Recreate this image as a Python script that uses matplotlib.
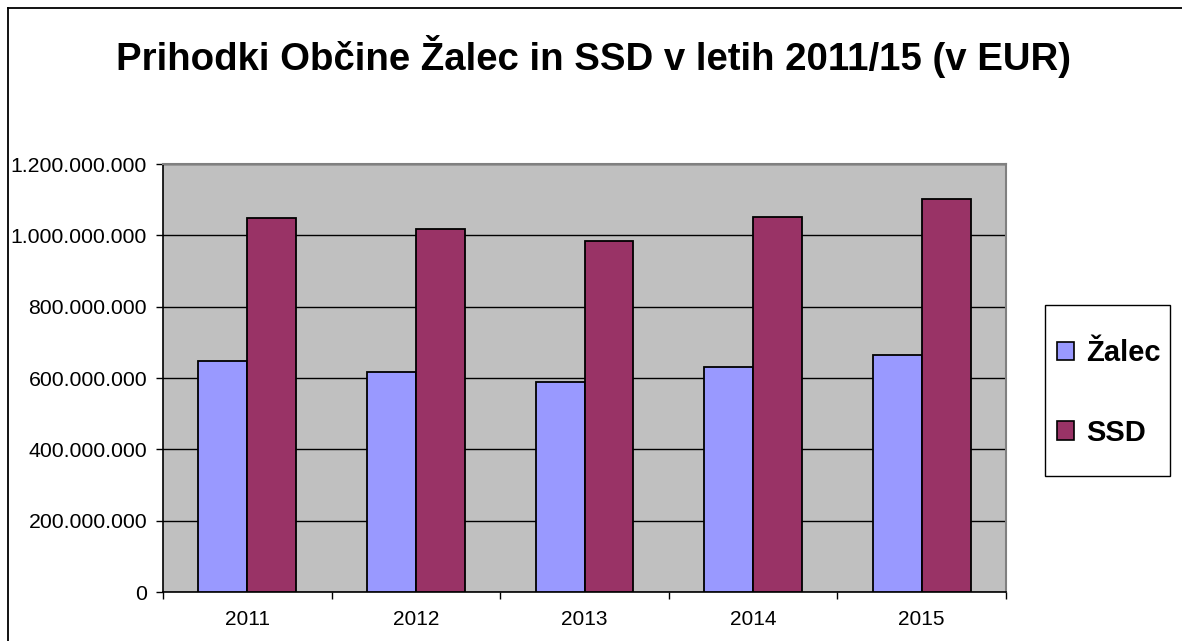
import matplotlib
matplotlib.use("Agg")
import matplotlib.pyplot as plt
import numpy as np
from matplotlib.lines import Line2D
from matplotlib.patches import Rectangle
from matplotlib.ticker import FuncFormatter

# data (EUR)
years = ["2011", "2012", "2013", "2014", "2015"]
zalec = [648e6, 616e6, 588e6, 632e6, 665e6]
ssd = [1050e6, 1018e6, 984e6, 1051e6, 1101e6]
series_names = ["Žalec", "SSD"]
y_ticks = [0, 200e6, 400e6, 600e6, 800e6, 1000e6, 1200e6]

plt.rcParams["font.family"] = ["Liberation Sans", "DejaVu Sans"]

W, H = 1182, 641
fig = plt.figure(figsize=(W / 100, H / 100), dpi=100)
ax = fig.add_axes([163 / W, 1 - 592 / H, (1006 - 163) / W, (592 - 164) / H])
ax.set_facecolor("#C0C0C0")

x = np.arange(len(years))
bw = 0.29
ax.bar(x - bw / 2, zalec, bw, color="#9999FF", edgecolor="black", linewidth=1.3,
       label=series_names[0], zorder=3)
ax.bar(x + bw / 2, ssd, bw, color="#993366", edgecolor="black", linewidth=1.3,
       label=series_names[1], zorder=3)

ax.set_xlim(-0.5, len(years) - 0.5)
ax.set_ylim(0, 1200e6)
ax.set_yticks(y_ticks)
ax.yaxis.set_major_formatter(FuncFormatter(lambda v, p: f"{int(v):,}".replace(",", ".")))
ax.yaxis.grid(True, color="black", linewidth=1, zorder=1)
ax.set_axisbelow(True)

# category boundaries get the tick marks, labels sit in between
ax.set_xticks(np.arange(-0.5, len(years), 1.0))
ax.set_xticklabels([])
ax.set_xticks(x, minor=True)
ax.set_xticklabels(years, minor=True)
ax.tick_params(axis="x", which="major", length=5, width=1, color="black", direction="out")
ax.tick_params(axis="x", which="minor", length=0, labelsize=15, pad=13)
ax.tick_params(axis="y", length=5, width=1, direction="out", labelsize=15.3, pad=6.5)

for side in ("left", "bottom"):
    ax.spines[side].set_color("black")
    ax.spines[side].set_linewidth(1.2)
for side in ("top", "right"):
    ax.spines[side].set_color("#808080")
    ax.spines[side].set_linewidth(1.5)

fig.text(593 / W, 1 - 57 / H, "Prihodki Občine Žalec in SSD v letih 2011/15 (v EUR)",
         ha="center", va="center", fontsize=27.6, fontweight="bold")

# legend with a hand-drawn frame
leg = fig.legend(loc="center left", bbox_to_anchor=(1042 / W, 1 - 393 / H),
                 frameon=False, prop={"weight": "bold", "size": 21},
                 handlelength=0.6, handleheight=0.6, handletextpad=0.4,
                 labelspacing=1.75, borderpad=0)
for h in leg.legend_handles:
    h.set_linewidth(1.2)
fig.add_artist(Rectangle((1045 / W, 1 - 476 / H), 125 / W, 171 / H,
                         transform=fig.transFigure, fill=False,
                         edgecolor="black", linewidth=1))

# outer chart border (left and top edges visible)
fig.add_artist(Line2D([7.5 / W, 7.5 / W], [0, 1 - 8 / H], transform=fig.transFigure,
                      color="black", linewidth=1.3))
fig.add_artist(Line2D([7.5 / W, 1], [1 - 8 / H, 1 - 8 / H], transform=fig.transFigure,
                      color="black", linewidth=1.3))

fig.savefig("out.png", dpi=100)
